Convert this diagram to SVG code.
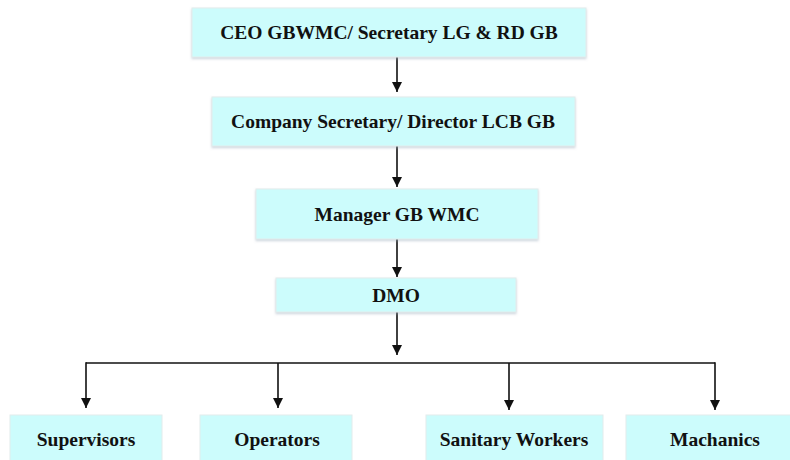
<svg xmlns="http://www.w3.org/2000/svg" width="790" height="460" viewBox="0 0 790 460">
<style>
.box{fill:#ccfcfc;stroke:#e2ecec;stroke-width:1}
.t{font-family:"Liberation Serif","Times New Roman",serif;font-weight:bold;font-size:19.5px;fill:#111;text-anchor:middle}
.c{stroke:#111;stroke-width:1.6;fill:none}
</style>
<defs>
<marker id="ah" viewBox="0 0 10 10" refX="10" refY="5" markerWidth="10" markerHeight="10" markerUnits="userSpaceOnUse" orient="auto">
<path d="M0,0 L10,5 L0,10 z" fill="#111"/>
</marker>
<filter id="sh" x="-5%" y="-10%" width="110%" height="130%">
<feDropShadow dx="0" dy="1.5" stdDeviation="1.2" flood-color="#9ab" flood-opacity="0.5"/>
</filter>
</defs>
<rect width="790" height="460" fill="#fff"/>
<g id="connectors">
<line class="c" x1="397" y1="57" x2="397" y2="92" marker-end="url(#ah)"/>
<line class="c" x1="397" y1="146" x2="397" y2="187" marker-end="url(#ah)"/>
<line class="c" x1="397" y1="239" x2="397" y2="277" marker-end="url(#ah)"/>
<line class="c" x1="397" y1="312" x2="397" y2="355" marker-end="url(#ah)"/>
<line class="c" x1="86" y1="363" x2="715" y2="363"/>
<line class="c" x1="86" y1="362.2" x2="86" y2="408" marker-end="url(#ah)"/>
<line class="c" x1="278" y1="363" x2="278" y2="408" marker-end="url(#ah)"/>
<line class="c" x1="509" y1="363" x2="509" y2="410" marker-end="url(#ah)"/>
<line class="c" x1="715" y1="362.2" x2="715" y2="410" marker-end="url(#ah)"/>
</g>
<g id="n1"><rect class="box" filter="url(#sh)" x="192" y="8" width="394" height="49"/><text class="t" x="389" y="39">CEO GBWMC/ Secretary LG &amp; RD GB</text></g>
<g id="n2"><rect class="box" filter="url(#sh)" x="212" y="97" width="363" height="49"/><text class="t" x="393" y="128">Company Secretary/ Director LCB GB</text></g>
<g id="n3"><rect class="box" filter="url(#sh)" x="256" y="189" width="282" height="50"/><text class="t" x="397" y="221">Manager GB WMC</text></g>
<g id="n4"><rect class="box" filter="url(#sh)" x="276" y="278" width="240" height="34"/><text class="t" x="396" y="302">DMO</text></g>
<g id="n5"><rect class="box" x="10" y="415" width="152" height="60"/><text class="t" x="86" y="446">Supervisors</text></g>
<g id="n6"><rect class="box" x="200" y="415" width="152" height="60"/><text class="t" x="277" y="446">Operators</text></g>
<g id="n7"><rect class="box" x="426" y="415" width="177" height="60"/><text class="t" x="514" y="446">Sanitary Workers</text></g>
<g id="n8"><rect class="box" x="626" y="415" width="180" height="60"/><text class="t" x="715" y="446">Machanics</text></g>
</svg>
